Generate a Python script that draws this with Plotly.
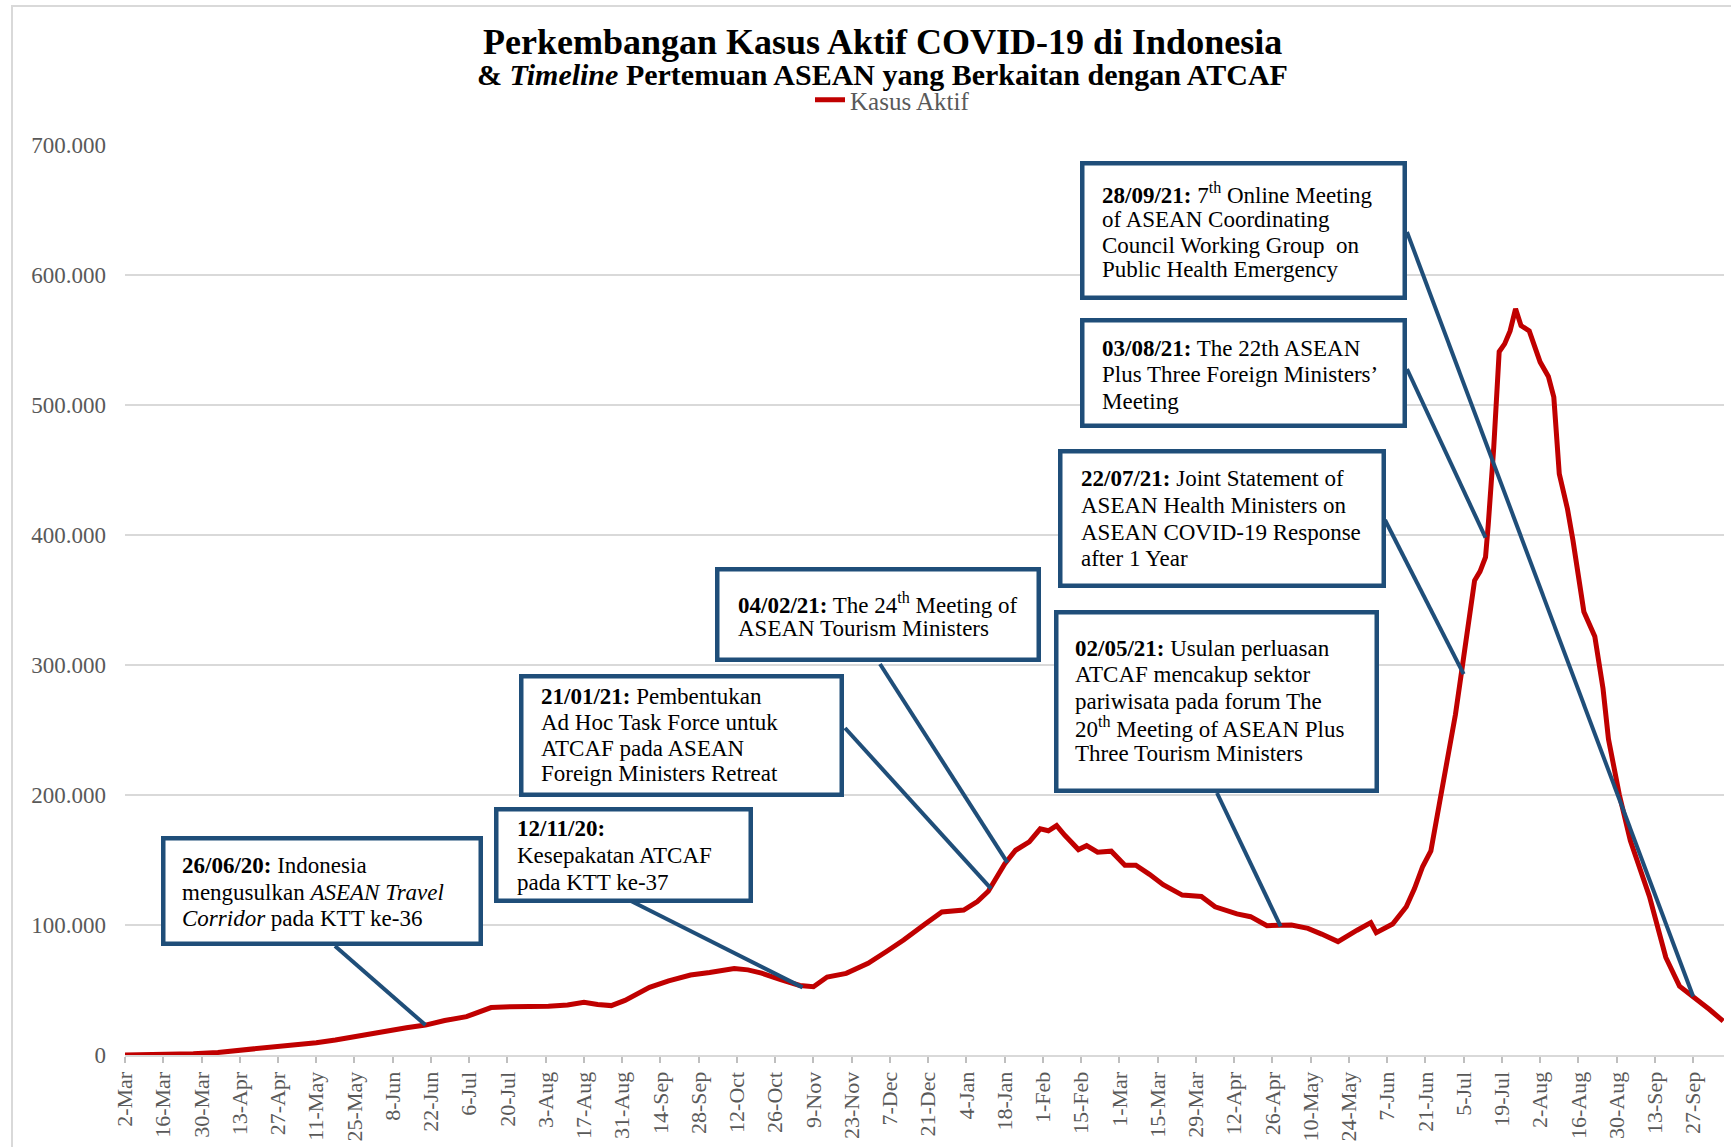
import plotly.graph_objects as go
from datetime import datetime

# ---------------- data ----------------
dates = [
    "2020-03-02", "2020-03-16", "2020-03-27", "2020-04-05", "2020-04-12", "2020-04-20",
    "2020-04-27", "2020-05-04", "2020-05-11", "2020-05-18", "2020-05-25", "2020-06-01",
    "2020-06-06", "2020-06-13", "2020-06-20", "2020-06-27", "2020-07-05", "2020-07-10",
    "2020-07-14", "2020-07-21", "2020-07-28", "2020-08-04", "2020-08-11", "2020-08-17",
    "2020-08-22", "2020-08-27", "2020-09-01", "2020-09-06", "2020-09-10", "2020-09-17",
    "2020-09-25", "2020-10-02", "2020-10-11", "2020-10-16", "2020-10-21", "2020-10-28",
    "2020-11-04", "2020-11-09", "2020-11-14", "2020-11-21", "2020-11-29", "2020-12-06",
    "2020-12-12", "2020-12-20", "2020-12-26", "2021-01-03", "2021-01-08", "2021-01-12",
    "2021-01-18", "2021-01-22", "2021-01-27", "2021-01-31", "2021-02-03", "2021-02-06",
    "2021-02-09", "2021-02-14", "2021-02-17", "2021-02-21", "2021-02-26", "2021-03-03",
    "2021-03-07", "2021-03-12", "2021-03-17", "2021-03-24", "2021-03-31", "2021-04-05",
    "2021-04-13", "2021-04-18", "2021-04-24", "2021-05-03", "2021-05-09", "2021-05-14",
    "2021-05-20", "2021-05-27", "2021-06-01", "2021-06-03", "2021-06-09", "2021-06-14",
    "2021-06-17", "2021-06-20", "2021-06-23", "2021-06-26", "2021-06-29", "2021-07-02",
    "2021-07-05", "2021-07-09", "2021-07-11", "2021-07-13", "2021-07-14", "2021-07-16",
    "2021-07-18", "2021-07-20", "2021-07-22", "2021-07-24", "2021-07-26", "2021-07-29",
    "2021-08-02", "2021-08-05", "2021-08-07", "2021-08-09", "2021-08-12", "2021-08-14",
    "2021-08-18", "2021-08-22", "2021-08-25", "2021-08-27", "2021-08-31", "2021-09-04",
    "2021-09-11", "2021-09-14", "2021-09-17", "2021-09-22", "2021-09-27", "2021-10-03",
    "2021-10-08",
]
kasus_aktif = [
    0, 100, 1000, 2000, 3300, 5000,
    6400, 8000, 9500, 11500, 14000, 16500,
    19000, 21000, 23000, 26500, 29500, 33000,
    36500, 37200, 37000, 37500, 38500, 40500,
    38800, 38000, 42000, 47000, 52000, 57000,
    61500, 63500, 66500, 65500, 63000, 58000,
    53500, 52500, 60000, 62800, 70500, 80000,
    88500, 101000, 110000, 111500, 118000, 126000,
    147000, 157500, 164000, 174000, 172500, 176500,
    169000, 158000, 161000, 156000, 156800, 146000,
    146000, 139000, 131000, 123000, 122000, 114000,
    108500, 106400, 99500, 100000, 97400, 93000,
    87200, 96000, 101800, 94100, 100800, 114000,
    128000, 145000, 157000, 192000, 227000, 262000,
    306000, 365000, 372000, 383000, 408000, 467000,
    541000, 547000, 557000, 574000, 561000, 557000,
    533000, 522000, 506000, 447000, 420000, 396000,
    341000, 322000, 282000, 243000, 200000, 165000,
    122000, 100000, 75000, 53000, 45000, 35000,
    26000,
]

y_tickvals = [0, 100000, 200000, 300000, 400000, 500000, 600000, 700000]
y_ticktext = ["0", "100.000", "200.000", "300.000", "400.000", "500.000", "600.000", "700.000"]

# annotation events: (curve point date, curve point value)
event_dates = ["2020-06-20", "2020-11-05", "2021-01-13", "2021-01-19",
               "2021-04-29", "2021-07-05", "2021-07-13", "2021-09-27"]
event_values = [23000, 52000, 128000, 148000, 99000, 293000, 398000, 45000]

event_texts = [
    ["<b>26/06/20:</b> Indonesia",
     "mengusulkan <i>ASEAN Travel</i>",
     "<i>Corridor</i> pada KTT ke-36"],
    ["<b>12/11/20:</b>",
     "Kesepakatan ATCAF",
     "pada KTT ke-37"],
    ["<b>21/01/21:</b> Pembentukan",
     "Ad Hoc Task Force untuk",
     "ATCAF pada ASEAN",
     "Foreign Ministers Retreat"],
    ["<b>04/02/21:</b> The 24<sup>th</sup> Meeting of",
     "ASEAN Tourism Ministers"],
    ["<b>02/05/21:</b> Usulan perluasan",
     "ATCAF mencakup sektor",
     "pariwisata pada forum The",
     "20<sup>th</sup> Meeting of ASEAN Plus",
     "Three Tourism Ministers"],
    ["<b>22/07/21:</b> Joint Statement of",
     "ASEAN Health Ministers on",
     "ASEAN COVID-19 Response",
     "after 1 Year"],
    ["<b>03/08/21:</b> The 22th ASEAN",
     "Plus Three Foreign Ministers\u2019",
     "Meeting"],
    ["<b>28/09/21:</b> 7<sup>th</sup> Online Meeting",
     "of ASEAN Coordinating",
     "Council Working Group  on",
     "Public Health Emergency"],
]

# ---------------- layout geometry (pixels) ----------------
W, H = 1731, 1147
PL, PR, PT, PB = 125, 1724, 145, 1055
X0 = datetime(2020, 3, 2)
X1 = datetime(2021, 10, 8, 7)
YMAX = 700000

def pxp(px):
    return (px - PL) / (PR - PL)

def pyp(py):
    return (PB - py) / (PB - PT)

def px2date(px):
    return (X0 + (X1 - X0) * ((px - PL) / (PR - PL))).strftime("%Y-%m-%d %H:%M:%S")

def py2val(py):
    return YMAX * (PB - py) / (PB - PT)

# box outer edges (x0, x1, y0, y1), text left, text line centres
boxes = [
    (161, 483, 836, 946, 180, [865, 892, 918]),
    (494, 753, 807, 903, 515, [828, 855, 882]),
    (519, 844, 674, 797, 539, [696, 722, 748, 773]),
    (715, 1041, 567, 662, 736, [603, 628]),
    (1054, 1379, 610, 793, 1073, [648, 675, 701, 727, 753]),
    (1058, 1386, 449, 588, 1079, [478, 505, 532, 558]),
    (1080, 1407, 318, 428, 1100, [348, 374, 401]),
    (1080, 1407, 161, 300, 1100, [193, 219, 245, 270]),
]
# connector tails (pixels) on box edges
tails = [(335, 946), (627, 899), (845, 728), (880, 664),
         (1217, 793), (1385, 520), (1407, 369), (1407, 232)]

BLUE = "#1F4E79"
RED = "#C00000"
GRAY = "#595959"
FONT = "Liberation Serif, Times New Roman, serif"

fig = go.Figure()
fig.add_trace(go.Scatter(
    x=dates, y=kasus_aktif, mode="lines", name="Kasus Aktif",
    line=dict(color=RED, width=5),
))

shapes = []
# chart outer border
shapes.append(dict(type="rect", xref="paper", yref="paper",
                   x0=pxp(12), x1=pxp(1780), y0=pyp(1200), y1=pyp(6),
                   line=dict(color="#D9D9D9", width=2), fillcolor="rgba(0,0,0,0)",
                   layer="below"))
# connectors
for d, v, (tx, ty) in zip(event_dates, event_values, tails):
    shapes.append(dict(type="line", xref="x", yref="y",
                       x0=d, y0=v, x1=px2date(tx), y1=py2val(ty),
                       line=dict(color=BLUE, width=4), layer="above"))
# boxes
BW = 4.5
for (bx0, bx1, by0, by1, _, _) in boxes:
    shapes.append(dict(type="rect", xref="paper", yref="paper",
                       x0=pxp(bx0 + BW / 2), x1=pxp(bx1 - BW / 2),
                       y0=pyp(by1 - BW / 2), y1=pyp(by0 + BW / 2),
                       line=dict(color=BLUE, width=BW), fillcolor="white",
                       layer="above"))

annotations = []
for (bx0, bx1, by0, by1, tx, ys), lines in zip(boxes, event_texts):
    for yc, t in zip(ys, lines):
        annotations.append(dict(xref="paper", yref="paper", x=pxp(tx), y=pyp(yc),
                                xanchor="left", yanchor="middle", text=t,
                                showarrow=False, align="left",
                                font=dict(family=FONT, size=23, color="black")))

# title
annotations.append(dict(xref="paper", yref="paper", x=pxp(882), y=pyp(42),
                        xanchor="center", yanchor="middle", showarrow=False,
                        text="<b>Perkembangan Kasus Aktif COVID-19 di Indonesia</b>",
                        font=dict(family=FONT, size=36, color="black")))
annotations.append(dict(xref="paper", yref="paper", x=pxp(882), y=pyp(74),
                        xanchor="center", yanchor="middle", showarrow=False,
                        text="<b>&amp; <i>Timeline</i> Pertemuan ASEAN yang Berkaitan dengan ATCAF</b>",
                        font=dict(family=FONT, size=30, color="black")))

fig.update_layout(
    width=W, height=H,
    margin=dict(l=PL, r=W - PR, t=PT, b=H - PB, pad=0),
    paper_bgcolor="white", plot_bgcolor="white",
    font=dict(family=FONT, color=GRAY),
    showlegend=True,
    legend=dict(orientation="h", x=pxp(810), xanchor="left", y=pyp(100), yanchor="middle",
                font=dict(family=FONT, size=25, color=GRAY), bgcolor="rgba(0,0,0,0)",
                itemwidth=30),
    shapes=shapes,
    annotations=annotations,
    xaxis=dict(
        type="date", range=[X0.strftime("%Y-%m-%d"), X1.strftime("%Y-%m-%d %H:%M:%S")],
        tick0="2020-03-02", dtick=14 * 86400000, tickformat="%-d-%b",
        tickangle=-90, ticks="outside", ticklen=6, tickwidth=1.5, tickcolor="#BFBFBF",
        showgrid=False, zeroline=False, showline=True, linecolor="#D9D9D9", linewidth=2,
        tickfont=dict(family=FONT, size=22, color=GRAY),
    ),
    yaxis=dict(
        range=[0, YMAX], tickvals=y_tickvals, ticktext=y_ticktext,
        showgrid=True, gridcolor="#D9D9D9", gridwidth=2, zeroline=False,
        showline=False, ticks="", ticklabelstandoff=18,
        tickfont=dict(family=FONT, size=23, color=GRAY),
    ),
)

fig.write_html("out.html", config={"displayModeBar": False},
               post_script="document.body.style.margin='0';")
